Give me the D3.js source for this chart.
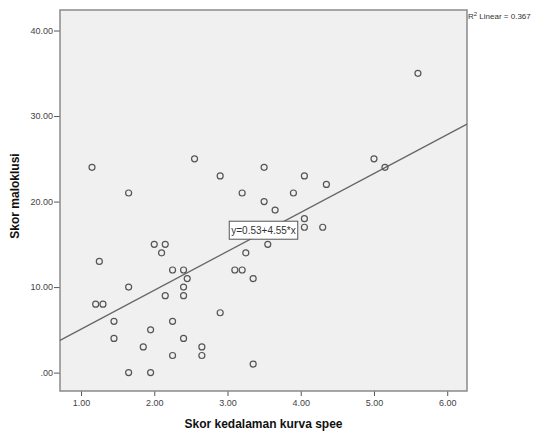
<!DOCTYPE html>
<html>
<head>
<meta charset="utf-8">
<script src="https://cdn.jsdelivr.net/npm/d3@7"></script>
<style>
  body { margin: 0; background: #fff; }
  text { font-family: "Liberation Sans", Arial, sans-serif; }
  .tick text { fill: #444; font-size: 9px; }
  .tick line { stroke: #555; }
  .axisTitle { font-size: 12px; font-weight: bold; fill: #111; }
</style>
</head>
<body>
<svg id="chart" width="542" height="435"></svg>
<script>

// kedalaman kurva spee (x) and maloklusi (y)
const speeScores = [1.15, 1.2, 1.25, 1.3, 1.45, 1.45, 1.65, 1.65, 1.65, 1.85, 1.95, 1.95,
    2.0, 2.1, 2.15, 2.15, 2.25, 2.25, 2.25, 2.4, 2.4, 2.4, 2.4, 2.45, 2.55, 2.65, 2.65,
    2.9, 2.9, 3.1, 3.2, 3.2, 3.25, 3.35, 3.35, 3.5, 3.5, 3.55, 3.65, 3.9, 4.05, 4.05,
    4.05, 4.3, 4.35, 5.0, 5.15, 5.6];
const malokScores = [24, 8, 13, 8, 6, 4, 21, 10, 0, 3, 5, 0,
    15, 14, 15, 9, 12, 6, 2, 12, 10, 9, 4, 11, 25, 3, 2,
    23, 7, 12, 21, 12, 14, 11, 1, 24, 20, 15, 19, 21, 23, 18,
    17, 17, 22, 25, 24, 35];

const xTicks = [1, 2, 3, 4, 5, 6];
const yTicks = [0, 10, 20, 30, 40];

const fitIntercept = 0.53;
const fitSlope = 4.55;
const rSquared = "0.367";

const data = speeScores.map((d, i) => ({x: d, y: malokScores[i]}));

/***** SETUP *****/
const width = 542, height = 435;
const margin = {top: 10, left: 60, right: 75, bottom: 44};

const svg = d3.select("#chart");

const xScale = d3.scaleLinear()
    .domain([0.713, 6.27])
    .range([margin.left, width - margin.right]);

const yScale = d3.scaleLinear()
    .domain([-2.15, 42.4])
    .range([height - margin.bottom, margin.top]);

// SPSS style: 0 is shown as ".00"
const fmt = v => v === 0 ? ".00" : d3.format(".2f")(v);

/***** PLOT BACKGROUND *****/
svg.append("rect")
    .attr("x", margin.left)
    .attr("y", margin.top)
    .attr("width", width - margin.left - margin.right)
    .attr("height", height - margin.top - margin.bottom)
    .attr("fill", "#f0f0f0");

/***** AXES *****/
svg.append("g")
    .attr("transform", `translate(0, ${height - margin.bottom})`)
    .call(d3.axisBottom(xScale).tickValues(xTicks).tickFormat(fmt).tickSize(5).tickPadding(4))
    .call(g => g.select(".domain").remove());

svg.append("g")
    .attr("transform", `translate(${margin.left}, 0)`)
    .call(d3.axisLeft(yScale).tickValues(yTicks).tickFormat(fmt).tickSize(6).tickPadding(1))
    .call(g => g.select(".domain").remove());

// frame
svg.append("rect")
    .attr("x", margin.left)
    .attr("y", margin.top)
    .attr("width", width - margin.left - margin.right)
    .attr("height", height - margin.top - margin.bottom)
    .attr("fill", "none")
    .attr("stroke", "#8a8a8a")
    .attr("stroke-width", 1.5);

/***** FIT LINE *****/
const [x0, x1] = xScale.domain();
svg.append("line")
    .attr("x1", xScale(x0))
    .attr("y1", yScale(fitIntercept + fitSlope * x0))
    .attr("x2", xScale(x1))
    .attr("y2", yScale(fitIntercept + fitSlope * x1))
    .attr("stroke", "#666")
    .attr("stroke-width", 1.3);

/***** POINTS *****/
svg.append("g")
    .selectAll("circle")
    .data(data)
    .enter()
    .append("circle")
    .attr("cx", d => xScale(d.x))
    .attr("cy", d => yScale(d.y))
    .attr("r", 3)
    .attr("fill", "none")
    .attr("stroke", "#555")
    .attr("stroke-width", 1.2);

/***** EQUATION LABEL *****/
const xm = (x0 + x1) / 2;
const eq = svg.append("g")
    .attr("transform", `translate(${xScale(xm)}, ${yScale(fitIntercept + fitSlope * xm) - 2})`);
const eqRect = eq.append("rect");
const eqText = eq.append("text")
    .text(`y=${fitIntercept}+${fitSlope}*x`)
    .attr("text-anchor", "middle")
    .attr("dy", "0.35em")
    .attr("font-size", "10px")
    .attr("fill", "#333");
const bb = eqText.node().getBBox();
eqRect.attr("x", bb.x - 2)
    .attr("y", -9)
    .attr("width", bb.width + 4)
    .attr("height", 18)
    .attr("fill", "#fff")
    .attr("stroke", "#555")
    .attr("stroke-width", 1);

/***** R SQUARED *****/
const r2 = svg.append("text")
    .attr("x", width - margin.right + 1)
    .attr("y", 19)
    .attr("font-size", "8px")
    .attr("fill", "#333");
r2.append("tspan").text("R");
r2.append("tspan").text("2").attr("font-size", "6px").attr("dy", -3);
r2.append("tspan").text(` Linear = ${rSquared}`).attr("dy", 3);

/***** AXIS TITLES *****/
svg.append("text")
    .attr("class", "axisTitle")
    .attr("x", (margin.left + width - margin.right) / 2 - 0)
    .attr("y", 428)
    .attr("text-anchor", "middle")
    .text("Skor kedalaman kurva spee");

svg.append("text")
    .attr("class", "axisTitle")
    .attr("transform", `translate(19, 196) rotate(-90)`)
    .attr("text-anchor", "middle")
    .text("Skor maloklusi");
</script>
</body>
</html>
